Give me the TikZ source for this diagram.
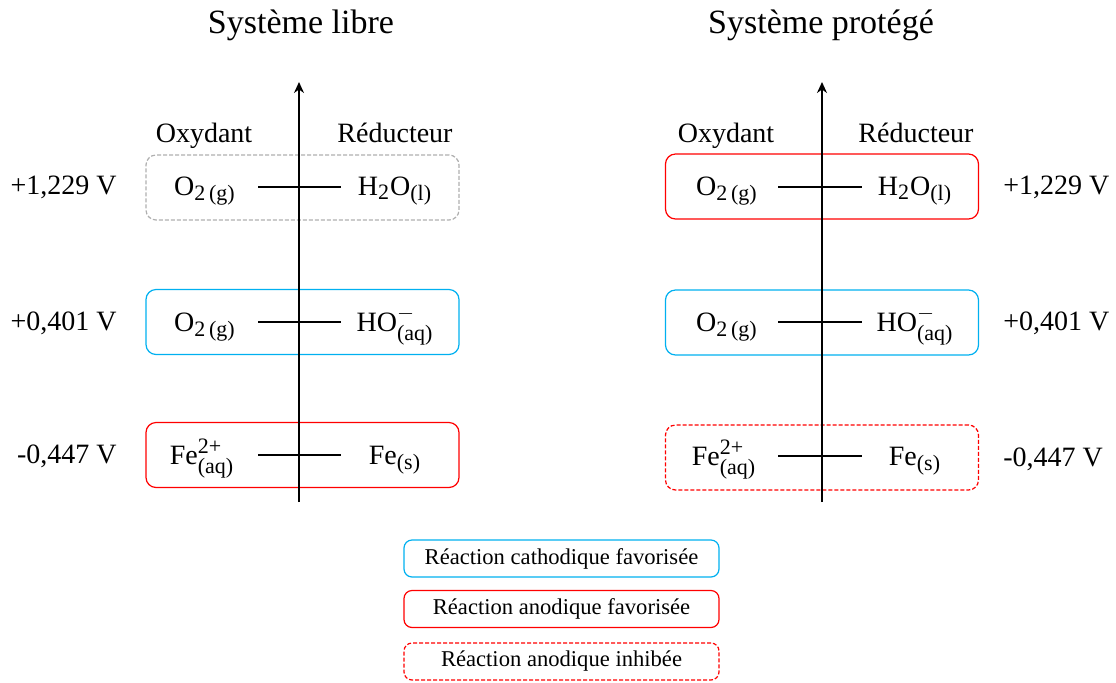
\documentclass[tikz,border=0pt]{standalone}
\usepackage{amsmath}
\usepackage{fontspec}
\setmainfont{Liberation Serif}
\usepackage{xcolor}
\usetikzlibrary{arrows.meta}
\definecolor{cathblue}{RGB}{0,176,240}
\definecolor{anodred}{RGB}{255,0,0}
\definecolor{boxgray}{RGB}{175,175,175}
\DeclareMathSizes{14}{14}{11}{9}

\begin{document}
\begin{tikzpicture}[
x=0.5pt,
y=-0.5pt,
every node/.style={font=\fontsize{14}{16}\selectfont,inner sep=0pt},
titlelbl/.style={font=\fontsize{17}{20}\selectfont,anchor=base},
collbl/.style={anchor=base},
specie/.style={anchor=base},
potlbl/.style={anchor=base},
couplebox/.style={rectangle,rounded corners=5pt,draw,line width=0.6pt,minimum width=156.5pt,minimum height=32.5pt},
cathbox/.style={couplebox,draw=cathblue},
anodbox/.style={couplebox,draw=anodred},
inhibbox/.style={couplebox,draw=anodred,dash pattern=on 2pt off 1pt},
nonebox/.style={couplebox,draw=boxgray,dash pattern=on 2pt off 1pt},
legendbox/.style={rectangle,rounded corners=4pt,draw,line width=0.6pt,minimum width=157.5pt,minimum height=18.5pt,font=\fontsize{11.3}{13}\selectfont},
axisarr/.style={-{Stealth[length=5.5pt,width=5pt]},line width=1pt},
tickline/.style={line width=1pt}
]
\useasboundingbox (0,0) rectangle (1116,682);

% systeme libre
\node[titlelbl] (titleL) at (301,33) {Système libre};
\node[collbl] (oxL) at (204,142) {Oxydant};
\node[collbl] (redL) at (395,142) {Réducteur};

\node[nonebox] (boxL1) at (302.5,187.5) {};
\node[cathbox] (boxL2) at (302.5,322) {};
\node[anodbox] (boxL3) at (302.5,455) {};

\coordinate (axL0) at (299,502);
\coordinate (axL1) at (299,82);
\draw[axisarr] (axL0) -- (axL1);

\coordinate (tkL1a) at (258,187); \coordinate (tkL1b) at (341,187);
\coordinate (tkL2a) at (258,322); \coordinate (tkL2b) at (341,322);
\coordinate (tkL3a) at (258,455); \coordinate (tkL3b) at (341,455);
\draw[tickline] (tkL1a) -- (tkL1b);
\draw[tickline] (tkL2a) -- (tkL2b);
\draw[tickline] (tkL3a) -- (tkL3b);

\node[specie] (o2L1) at (205,195) {O$_{\text{2\,(g)}}$};
\node[specie] (h2oL) at (395,195) {H$_{\text{2}}$O$_{\text{(l)}}$};
\node[specie] (o2L2) at (205,331) {O$_{\text{2\,(g)}}$};
\node[specie] (hoL) at (395,331) {HO$^{-}_{\text{(aq)}}$};
\node[specie] (fe2L) at (202,464) {Fe$^{\text{2+}}_{\text{(aq)}}$};
\node[specie] (feL) at (395,464) {Fe$_{\text{(s)}}$};

\node[potlbl,anchor=base east] (potL1) at (117,194) {+1,229 V};
\node[potlbl,anchor=base east] (potL2) at (117,330) {+0,401 V};
\node[potlbl,anchor=base east] (potL3) at (117,463) {-0,447 V};

% systeme protege
\node[titlelbl] (titleR) at (821,33) {Système protégé};
\node[collbl] (oxR) at (726,142) {Oxydant};
\node[collbl] (redR) at (916,142) {Réducteur};

\node[anodbox] (boxR1) at (822,186.5) {};
\node[cathbox] (boxR2) at (822,322.5) {};
\node[inhibbox] (boxR3) at (822,457.5) {};

\coordinate (axR0) at (822,502);
\coordinate (axR1) at (822,82);
\draw[axisarr] (axR0) -- (axR1);

\coordinate (tkR1a) at (778,187); \coordinate (tkR1b) at (862,187);
\coordinate (tkR2a) at (778,322); \coordinate (tkR2b) at (862,322);
\coordinate (tkR3a) at (778,456); \coordinate (tkR3b) at (862,456);
\draw[tickline] (tkR1a) -- (tkR1b);
\draw[tickline] (tkR2a) -- (tkR2b);
\draw[tickline] (tkR3a) -- (tkR3b);

\node[specie] (o2R1) at (727,195) {O$_{\text{2\,(g)}}$};
\node[specie] (h2oR) at (915,195) {H$_{\text{2}}$O$_{\text{(l)}}$};
\node[specie] (o2R2) at (727,331) {O$_{\text{2\,(g)}}$};
\node[specie] (hoR) at (915,331) {HO$^{-}_{\text{(aq)}}$};
\node[specie] (fe2R) at (724,465) {Fe$^{\text{2+}}_{\text{(aq)}}$};
\node[specie] (feR) at (915,465) {Fe$_{\text{(s)}}$};

\node[potlbl,anchor=base west] (potR1) at (1003,194) {+1,229 V};
\node[potlbl,anchor=base west] (potR2) at (1003,330) {+0,401 V};
\node[potlbl,anchor=base west] (potR3) at (1003,466) {-0,447 V};

% legende
\node[legendbox,draw=cathblue] (legCath) at (561.5,558.5) {Réaction cathodique favorisée};
\node[legendbox,draw=anodred] (legAnod) at (561.5,609) {Réaction anodique favorisée};
\node[legendbox,draw=anodred,dash pattern=on 2pt off 1pt] (legInhib) at (561.5,661.5) {Réaction anodique inhibée};
\end{tikzpicture}
\end{document}
